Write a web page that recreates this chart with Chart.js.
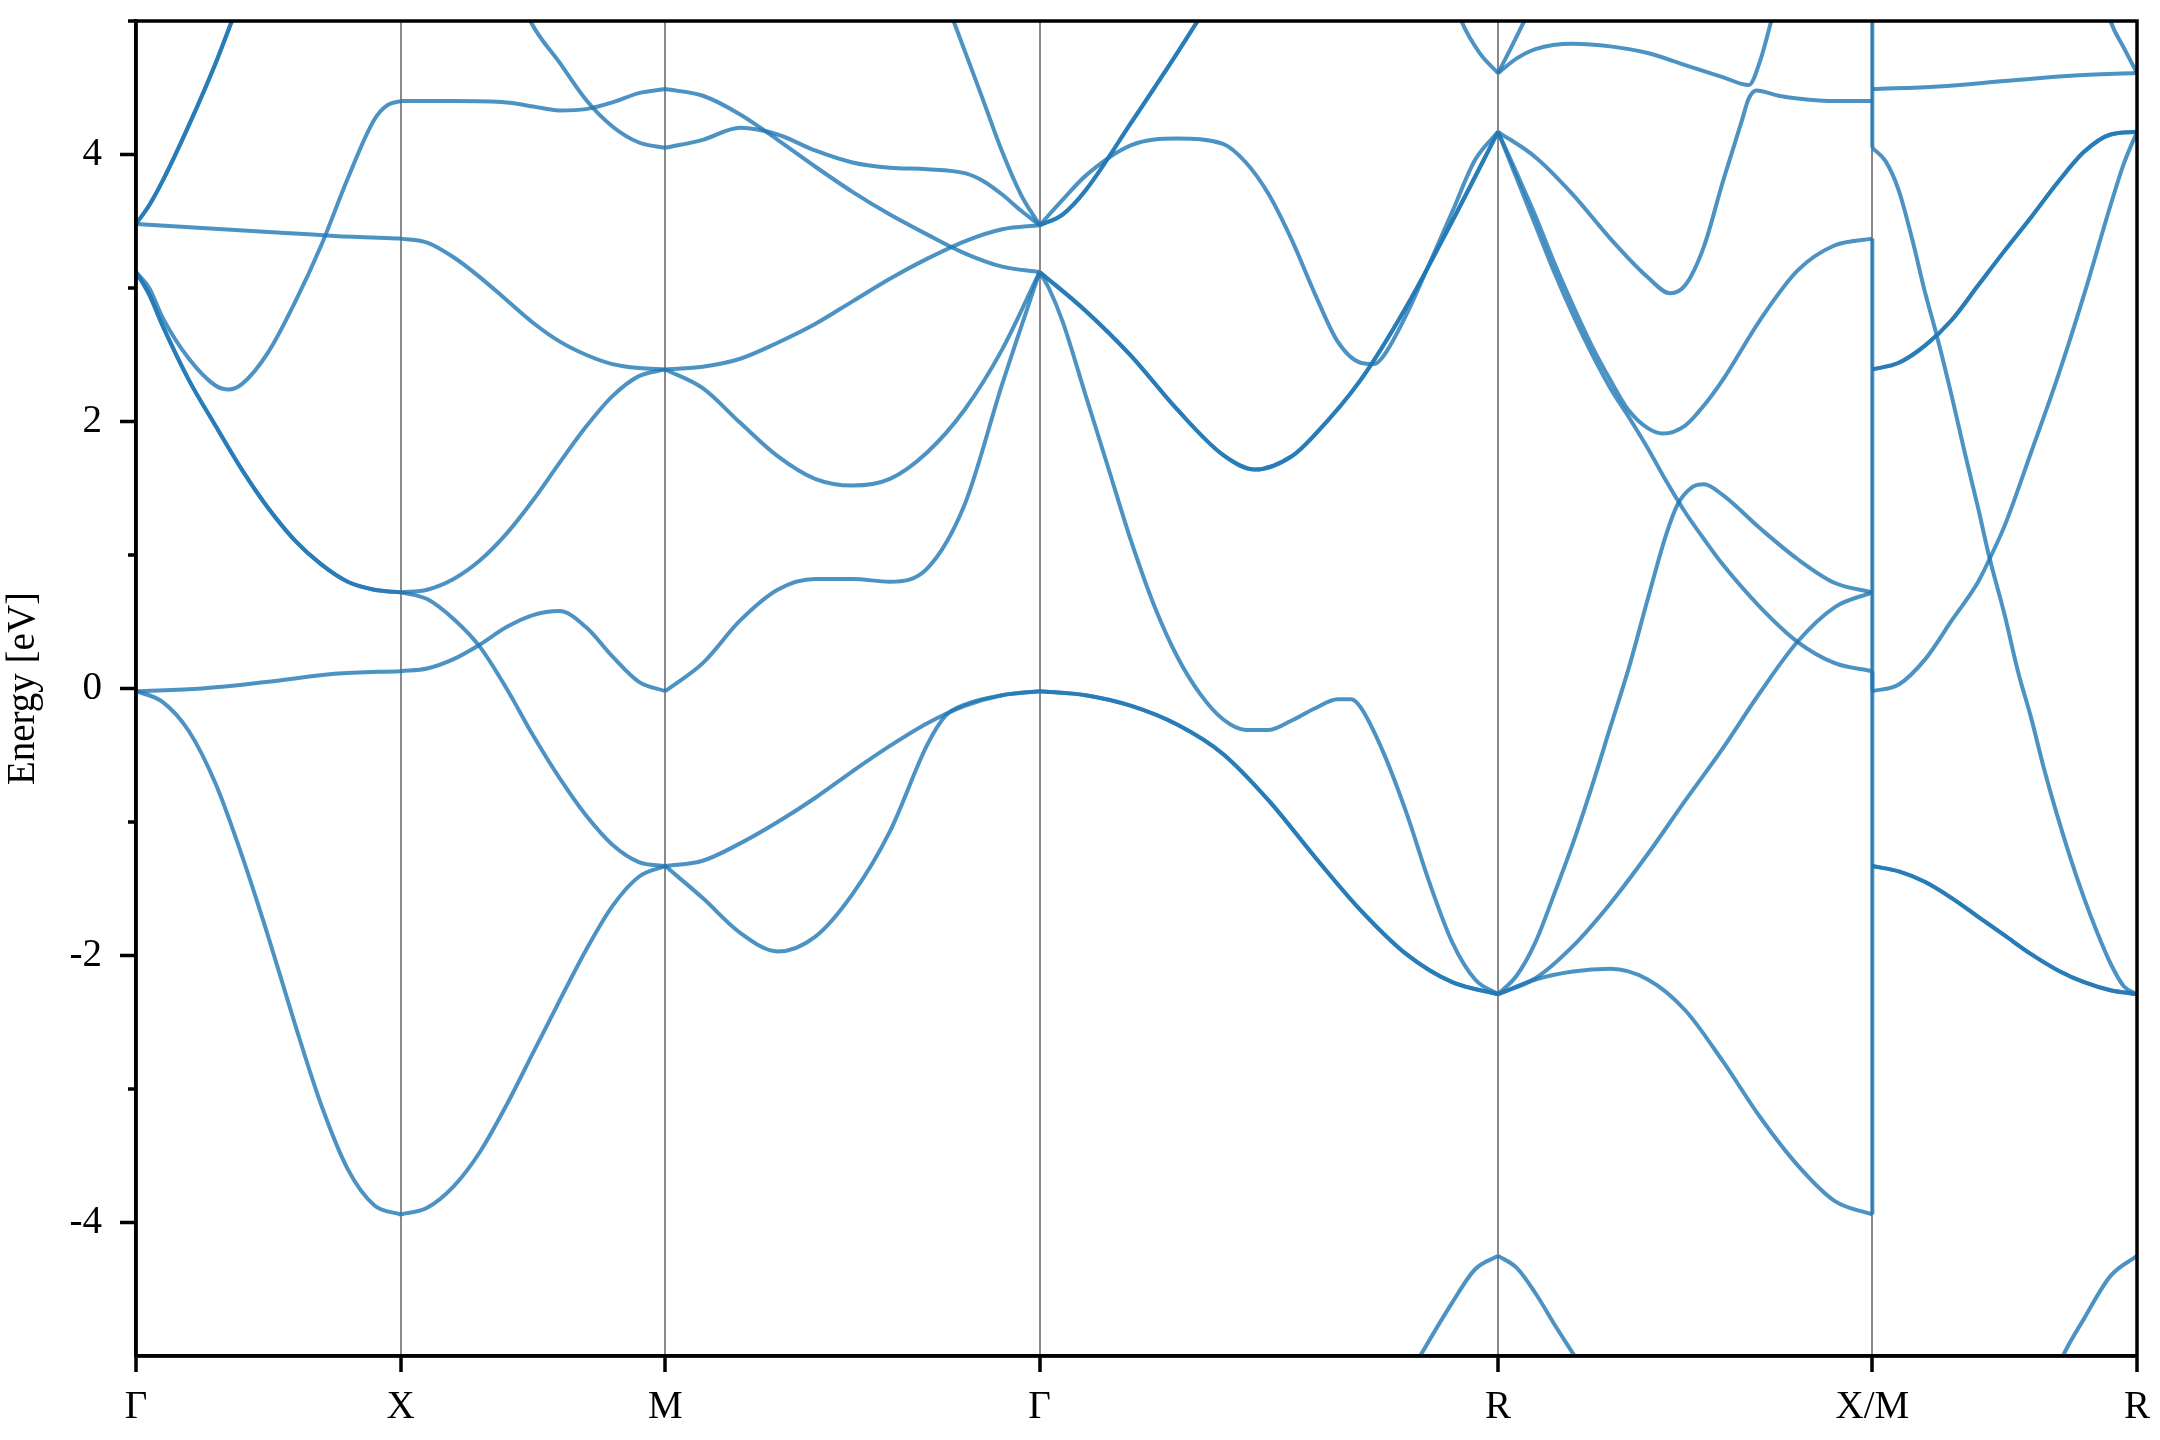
<!DOCTYPE html>
<html>
<head>
<meta charset="utf-8">
<script src="https://cdn.jsdelivr.net/npm/chart.js@4"></script>
<style>
  body { margin: 0; background: #fff; }
  #wrap { width: 2160px; height: 1440px; }
</style>
</head>
<body>
<div id="wrap"><canvas id="bands"></canvas></div>
<script>
// k-path: high symmetry points and their positions along the path
const kLabels = ['Γ', 'X', 'M', 'Γ', 'R', 'X/M', 'R'];
const kTicks = [0, 0.5, 1.0, 1.7071, 2.5731, 3.2802, 3.7802];
const yTicks = [5, 4, 3, 2, 1, 0, -1, -2, -3, -4];

// bands per segment, each point is [fraction along segment, energy in eV]
const bandsGX = [
  [[0, 3.48], [0.05, 3.62], [0.1, 3.8], [0.2, 4.22], [0.3, 4.68], [0.4, 5.2]],
  [[0, 3.48], [0.25, 3.45], [0.5, 3.42], [0.75, 3.39], [1, 3.37]],
  [[0, 3.12], [0.05, 3.0], [0.1, 2.78], [0.2, 2.47], [0.3, 2.27], [0.35, 2.24], [0.4, 2.28], [0.5, 2.52], [0.6, 2.89], [0.7, 3.32], [0.8, 3.82], [0.9, 4.26], [0.95, 4.37], [1, 4.4]],
  [[0, 3.12], [0.05, 2.95], [0.1, 2.72], [0.2, 2.31], [0.3, 1.97], [0.4, 1.64], [0.5, 1.35], [0.6, 1.11], [0.7, 0.93], [0.8, 0.8], [0.9, 0.74], [1, 0.72]],
  [[0, -0.02], [0.25, 0.0], [0.5, 0.05], [0.75, 0.11], [1, 0.13]],
  [[0, -0.02], [0.1, -0.1], [0.2, -0.32], [0.3, -0.71], [0.4, -1.25], [0.5, -1.86], [0.6, -2.51], [0.7, -3.12], [0.8, -3.6], [0.9, -3.87], [1, -3.94]]
];
const twiceGX = [0, 3];

const bandsXM = [
  [[0, 4.4], [0.2, 4.4], [0.4, 4.39], [0.5, 4.36], [0.6, 4.33], [0.7, 4.34], [0.8, 4.39], [0.9, 4.46], [1, 4.49]],
  [[0.4, 5.45], [0.49, 5.0], [0.6, 4.69], [0.7, 4.41], [0.8, 4.21], [0.9, 4.09], [1, 4.05]],
  [[0, 3.37], [0.1, 3.34], [0.2, 3.23], [0.3, 3.08], [0.4, 2.91], [0.5, 2.74], [0.6, 2.6], [0.7, 2.5], [0.8, 2.43], [0.9, 2.4], [1, 2.39]],
  [[0, 0.72], [0.1, 0.74], [0.2, 0.82], [0.3, 0.96], [0.4, 1.16], [0.5, 1.41], [0.6, 1.69], [0.7, 1.96], [0.8, 2.19], [0.9, 2.34], [1, 2.39]],
  [[0, 0.72], [0.1, 0.67], [0.2, 0.52], [0.3, 0.31], [0.4, 0.0], [0.5, -0.35], [0.6, -0.67], [0.7, -0.95], [0.8, -1.17], [0.9, -1.3], [1, -1.33]],
  [[0, 0.13], [0.1, 0.15], [0.2, 0.22], [0.3, 0.33], [0.4, 0.46], [0.5, 0.55], [0.6, 0.58], [0.7, 0.46], [0.8, 0.24], [0.9, 0.05], [1, -0.02]],
  [[0, -3.94], [0.1, -3.89], [0.2, -3.73], [0.3, -3.47], [0.4, -3.12], [0.5, -2.73], [0.6, -2.34], [0.7, -1.96], [0.8, -1.63], [0.9, -1.41], [1, -1.33]]
];
const twiceXM = [];

const bandsMG = [
  [[0, 4.49], [0.1, 4.44], [0.2, 4.3], [0.3, 4.11], [0.4, 3.91], [0.5, 3.72], [0.6, 3.55], [0.7, 3.4], [0.8, 3.26], [0.9, 3.16], [1, 3.12]],
  [[0, 4.05], [0.1, 4.11], [0.2, 4.2], [0.3, 4.15], [0.4, 4.03], [0.5, 3.94], [0.6, 3.9], [0.7, 3.89], [0.8, 3.86], [0.85, 3.8], [0.9, 3.7], [0.95, 3.58], [1, 3.47]],
  [[0.7, 5.5], [0.77, 5.0], [0.85, 4.4], [0.9, 4.02], [0.95, 3.7], [1, 3.47]],
  [[0, 2.39], [0.1, 2.41], [0.2, 2.47], [0.3, 2.59], [0.4, 2.73], [0.5, 2.9], [0.6, 3.07], [0.7, 3.22], [0.8, 3.35], [0.9, 3.44], [1, 3.47]],
  [[0, 2.39], [0.1, 2.25], [0.2, 1.99], [0.3, 1.74], [0.4, 1.57], [0.5, 1.52], [0.6, 1.57], [0.7, 1.77], [0.8, 2.09], [0.9, 2.54], [1, 3.12]],
  [[0, -0.02], [0.1, 0.19], [0.2, 0.51], [0.3, 0.74], [0.4, 0.82], [0.5, 0.82], [0.6, 0.8], [0.7, 0.9], [0.8, 1.38], [0.9, 2.28], [1, 3.12]],
  [[0, -1.33], [0.1, -1.29], [0.2, -1.16], [0.3, -1.0], [0.4, -0.82], [0.5, -0.62], [0.6, -0.43], [0.7, -0.26], [0.8, -0.13], [0.9, -0.05], [1, -0.02]],
  [[0, -1.33], [0.1, -1.57], [0.2, -1.83], [0.3, -1.97], [0.4, -1.86], [0.5, -1.54], [0.6, -1.07], [0.7, -0.42], [0.75, -0.2], [0.8, -0.12], [0.9, -0.05], [1, -0.02]]
];
const twiceMG = [];

const bandsGR = [
  [[0, 3.47], [0.05, 3.55], [0.1, 3.73], [0.2, 4.24], [0.3, 4.76], [0.4, 5.3]],
  [[0, 3.47], [0.05, 3.66], [0.1, 3.84], [0.2, 4.07], [0.3, 4.12], [0.4, 4.08], [0.45, 3.94], [0.5, 3.7], [0.55, 3.36], [0.6, 2.96], [0.65, 2.6], [0.7, 2.44], [0.73, 2.43], [0.75, 2.49], [0.8, 2.8], [0.85, 3.18], [0.9, 3.57], [0.95, 3.96], [1, 4.17]],
  [[0, 3.12], [0.1, 2.83], [0.2, 2.49], [0.3, 2.09], [0.4, 1.75], [0.47, 1.64], [0.55, 1.74], [0.6, 1.9], [0.7, 2.31], [0.8, 2.86], [0.9, 3.5], [1, 4.17]],
  [[0, 3.12], [0.02, 3.0], [0.05, 2.75], [0.1, 2.2], [0.15, 1.65], [0.2, 1.1], [0.25, 0.62], [0.3, 0.24], [0.35, -0.04], [0.4, -0.23], [0.45, -0.31], [0.5, -0.31], [0.55, -0.24], [0.6, -0.15], [0.65, -0.08], [0.68, -0.08], [0.7, -0.14], [0.75, -0.48], [0.8, -0.93], [0.85, -1.45], [0.9, -1.9], [0.95, -2.18], [1, -2.29]],
  [[0, -0.02], [0.1, -0.05], [0.2, -0.13], [0.3, -0.27], [0.4, -0.49], [0.5, -0.84], [0.6, -1.26], [0.7, -1.66], [0.8, -1.99], [0.9, -2.2], [1, -2.29]],
  [[0.78, -5.3], [0.83, -5.0], [0.9, -4.6], [0.95, -4.35], [1, -4.25]],
  [[0.88, 5.4], [0.92, 5.0], [0.96, 4.76], [1, 4.61]]
];
const twiceGR = [0, 2, 4];

const bandsRX = [
  [[0, 4.61], [0.035, 4.8], [0.07, 5.0], [0.1, 5.17]],
  [[0, 4.61], [0.05, 4.72], [0.1, 4.79], [0.2, 4.83], [0.3, 4.81], [0.4, 4.76], [0.5, 4.67], [0.6, 4.58], [0.67, 4.52], [0.7, 4.7], [0.73, 5.0], [0.76, 5.3]],
  [[0, 4.17], [0.1, 3.98], [0.2, 3.7], [0.3, 3.37], [0.4, 3.08], [0.46, 2.96], [0.5, 3.02], [0.55, 3.31], [0.6, 3.79], [0.65, 4.24], [0.67, 4.42], [0.69, 4.48], [0.75, 4.44], [0.8, 4.42], [0.9, 4.4], [1, 4.4]],
  [[0, 4.17], [0.05, 3.86], [0.1, 3.54], [0.15, 3.19], [0.2, 2.87], [0.25, 2.57], [0.3, 2.31], [0.35, 2.08], [0.4, 1.95], [0.44, 1.91], [0.5, 1.97], [0.55, 2.12], [0.6, 2.31], [0.7, 2.76], [0.8, 3.13], [0.9, 3.32], [1, 3.37]],
  [[0, 4.17], [0.05, 3.82], [0.1, 3.47], [0.15, 3.12], [0.2, 2.8], [0.25, 2.51], [0.3, 2.25], [0.35, 2.03], [0.4, 1.8], [0.45, 1.55], [0.5, 1.32], [0.55, 1.12], [0.6, 0.93], [0.7, 0.61], [0.8, 0.35], [0.9, 0.19], [1, 0.13]],
  [[0, -2.29], [0.05, -2.15], [0.1, -1.9], [0.15, -1.54], [0.2, -1.16], [0.25, -0.74], [0.3, -0.29], [0.35, 0.16], [0.4, 0.67], [0.45, 1.16], [0.48, 1.38], [0.52, 1.51], [0.55, 1.53], [0.6, 1.45], [0.7, 1.2], [0.8, 0.97], [0.9, 0.79], [1, 0.72]],
  [[0, -2.29], [0.1, -2.17], [0.2, -1.93], [0.3, -1.61], [0.4, -1.24], [0.5, -0.84], [0.6, -0.45], [0.7, -0.03], [0.8, 0.35], [0.9, 0.61], [1, 0.72]],
  [[0, -2.29], [0.1, -2.18], [0.2, -2.12], [0.3, -2.1], [0.4, -2.18], [0.5, -2.41], [0.6, -2.79], [0.7, -3.21], [0.8, -3.57], [0.9, -3.84], [1, -3.94]],
  [[0, -4.25], [0.05, -4.34], [0.1, -4.53], [0.15, -4.76], [0.2, -4.98], [0.25, -5.2]]
];
const twiceRX = [];

const bandsMR = [
  [[0, 4.49], [0.25, 4.51], [0.5, 4.55], [0.75, 4.59], [1, 4.61]],
  [[0.86, 5.3], [0.9, 5.0], [0.95, 4.8], [1, 4.61]],
  [[0, 4.05], [0.05, 3.95], [0.1, 3.73], [0.15, 3.37], [0.2, 2.96], [0.24, 2.67], [0.3, 2.19], [0.35, 1.76], [0.4, 1.35], [0.44, 1.0], [0.5, 0.55], [0.55, 0.13], [0.6, -0.22], [0.65, -0.61], [0.7, -0.96], [0.75, -1.28], [0.8, -1.57], [0.85, -1.83], [0.9, -2.06], [0.95, -2.23], [1, -2.29]],
  [[0, 2.39], [0.1, 2.44], [0.2, 2.57], [0.3, 2.76], [0.4, 3.02], [0.5, 3.28], [0.6, 3.53], [0.7, 3.79], [0.8, 4.02], [0.9, 4.15], [1, 4.17]],
  [[0, -0.02], [0.1, 0.03], [0.2, 0.22], [0.3, 0.51], [0.4, 0.8], [0.45, 1.0], [0.5, 1.22], [0.6, 1.77], [0.7, 2.33], [0.8, 2.95], [0.9, 3.62], [0.95, 3.93], [1, 4.17]],
  [[0, -1.33], [0.1, -1.37], [0.2, -1.45], [0.3, -1.57], [0.4, -1.71], [0.5, -1.85], [0.6, -1.99], [0.7, -2.11], [0.8, -2.2], [0.9, -2.26], [1, -2.29]],
  [[0.66, -5.3], [0.72, -5.0], [0.8, -4.72], [0.9, -4.4], [1, -4.25]]
];
const twiceMR = [3, 5];

// vertical jumps where the path breaks at X/M: [energy at X, energy at M]
const jumpsXM = [[-3.94, -1.33], [0.13, -1.33], [0.72, -0.02], [0.72, 2.39], [3.37, 2.39], [4.4, 4.05], [4.4, 4.49], [4.49, 5.5]];

const segments = [
  [0, 1, bandsGX, twiceGX],
  [1, 2, bandsXM, twiceXM],
  [2, 3, bandsMG, twiceMG],
  [3, 4, bandsGR, twiceGR],
  [4, 5, bandsRX, twiceRX],
  [5, 6, bandsMR, twiceMR]
];

const lineColor = 'rgba(31, 119, 180, 0.8)';
const fontSpec = { family: '"Liberation Serif", "DejaVu Serif", serif', size: 39 };

function bandSet(points, smooth) {
  return {
    data: points,
    borderColor: lineColor,
    borderWidth: 4,
    pointRadius: 0,
    fill: false,
    tension: smooth ? 0.4 : 0,
    cubicInterpolationMode: smooth ? 'monotone' : 'default'
  };
}

const datasets = [];
segments.forEach(([i0, i1, bands, twice]) => {
  const k0 = kTicks[i0], k1 = kTicks[i1];
  bands.forEach((band, idx) => {
    const pts = band.map(([t, e]) => ({ x: k0 + t * (k1 - k0), y: e }));
    datasets.push(bandSet(pts, true));
    if (twice.includes(idx)) datasets.push(bandSet(pts, true));
  });
});
jumpsXM.forEach(([a, b]) => {
  datasets.push(bandSet([{ x: kTicks[5], y: a }, { x: kTicks[5], y: b }], false));
});

// frame on all four sides + outward y ticks (long on labelled, short between)
const framePlugin = {
  id: 'frame',
  afterDatasetsDraw(chart) {
    const { ctx, chartArea: a, scales: { y } } = chart;
    ctx.save();
    ctx.strokeStyle = '#000';
    ctx.lineWidth = 3.5;
    ctx.strokeRect(a.left, a.top, a.right - a.left, a.bottom - a.top);
    ctx.beginPath();
    yTicks.forEach(v => {
      const py = y.getPixelForValue(v);
      const len = v % 2 === 0 ? 16 : 8;
      ctx.moveTo(a.left - len, py);
      ctx.lineTo(a.left, py);
    });
    ctx.stroke();
    ctx.restore();
  }
};

new Chart(document.getElementById('bands'), {
  type: 'line',
  data: { datasets: datasets },
  options: {
    responsive: true,
    maintainAspectRatio: false,
    animation: false,
    layout: { padding: { top: 21, right: 23, left: 0, bottom: 0 } },
    plugins: { legend: { display: false }, tooltip: { enabled: false } },
    scales: {
      x: {
        type: 'linear',
        min: kTicks[0],
        max: kTicks[kTicks.length - 1],
        afterBuildTicks: s => { s.ticks = kTicks.map(v => ({ value: v })); },
        afterFit: s => { s.height = 84; s.paddingLeft = 0; s.paddingRight = 0; },
        grid: { color: '#8a8a8a', lineWidth: 2, drawTicks: true, tickLength: 16, tickColor: '#000', tickWidth: 3.5 },
        border: { color: '#000', width: 3.5 },
        ticks: {
          autoSkip: false, maxRotation: 0, padding: 12, color: '#000', font: fontSpec,
          callback: (v, i) => kLabels[i]
        }
      },
      y: {
        min: -5,
        max: 5,
        afterFit: s => { s.width = 136; s.paddingTop = 0; s.paddingBottom = 0; },
        grid: { drawOnChartArea: false, drawTicks: false },
        border: { color: '#000', width: 3.5 },
        ticks: {
          stepSize: 1, padding: 34, color: '#000', font: fontSpec,
          callback: v => (v % 2 === 0 ? String(v) : '')
        },
        title: { display: true, text: 'Energy [eV]', color: '#000', font: fontSpec, padding: 0 }
      }
    }
  },
  plugins: [framePlugin]
});
</script>
</body>
</html>
